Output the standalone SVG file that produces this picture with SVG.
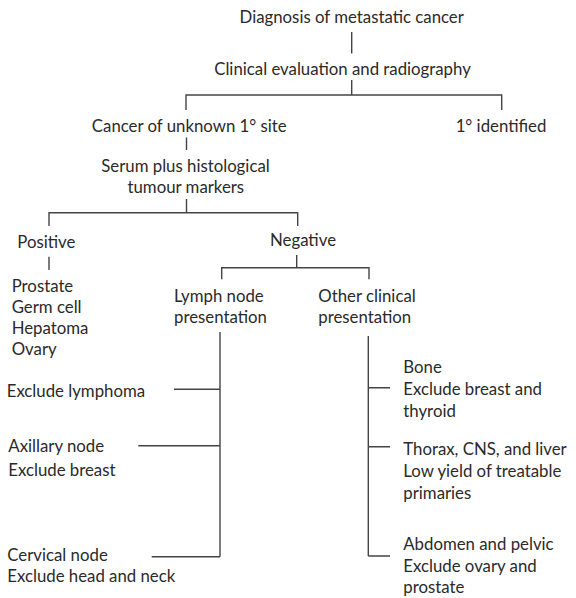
<svg xmlns="http://www.w3.org/2000/svg" width="576" height="598" viewBox="0 0 576 598">
<style>
text{font-family:Lato,"Open Sans","Liberation Sans",sans-serif;font-size:16.8px;fill:#2a2a2a}
.c{stroke:#444;stroke-width:1.4;fill:none}
</style>
<rect width="576" height="598" fill="#fff"/>
<g id="connectors">
<path class="c" d="M351.7 32V53.5M351.7 80V95M186 110V95H501.7V110"/>
<path class="c" d="M186.5 137.5V150M186.5 199V212.7M49 226V212.7H297.7V226"/>
<path class="c" d="M49 256.7V270M296.7 255V267.7M221.7 279.3V267.7H369V279.3"/>
<path class="c" d="M220 332V556.7M174 389.3H220M138.3 445.7H220M151.7 556.7H220"/>
<path class="c" d="M368.3 336V556M368.3 387.7H390M368.3 446.7H390M368.3 556H390"/>
</g>
<g id="diagnosis"><text x="351.7" y="22.7" text-anchor="middle">Diagnosis of metastatic cancer</text></g>
<g id="clinical"><text x="342.5" y="75" text-anchor="middle">Clinical evaluation and radiography</text></g>
<g id="unknown"><text x="286.7" y="131.7" text-anchor="end">Cancer of unknown 1° site</text></g>
<g id="identified"><text x="501" y="131.7" text-anchor="middle">1° identified</text></g>
<g id="serum"><text x="185.5" y="171.7" text-anchor="middle">Serum plus histological</text><text x="185.8" y="192.7" text-anchor="middle">tumour markers</text></g>
<g id="positive"><text x="17.3" y="248.3">Positive</text></g>
<g id="positive-list"><text x="11.7" y="291.7">Prostate</text><text x="11.7" y="312.7">Germ cell</text><text x="11.7" y="334.3">Hepatoma</text><text x="11.7" y="355">Ovary</text></g>
<g id="negative"><text x="303" y="246" text-anchor="middle">Negative</text></g>
<g id="lymph"><text x="174" y="301.7">Lymph node</text><text x="174" y="323.3">presentation</text></g>
<g id="other"><text x="318.3" y="301.7">Other clinical</text><text x="318.3" y="323.3">presentation</text></g>
<g id="lymphoma"><text x="6.7" y="396.7">Exclude lymphoma</text></g>
<g id="axillary"><text x="8.3" y="451.7">Axillary node</text><text x="8.3" y="475.7">Exclude breast</text></g>
<g id="cervical"><text x="7.3" y="560.7">Cervical node</text><text x="7.3" y="582.3">Exclude head and neck</text></g>
<g id="bone"><text x="403.3" y="372.7">Bone</text><text x="403.3" y="395">Exclude breast and</text><text x="403.3" y="417.3">thyroid</text></g>
<g id="thorax"><text x="403.3" y="455">Thorax, CNS, and liver</text><text x="403.3" y="476.7">Low yield of treatable</text><text x="403.3" y="499">primaries</text></g>
<g id="abdomen"><text x="403.3" y="550">Abdomen and pelvic</text><text x="403.3" y="571.7">Exclude ovary and</text><text x="403.3" y="593.3">prostate</text></g>
</svg>
